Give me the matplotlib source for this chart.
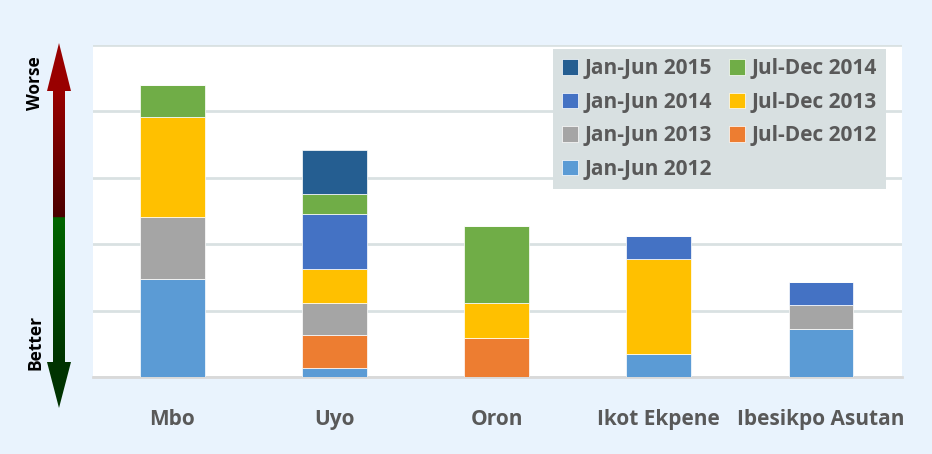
import matplotlib.pyplot as plt
import numpy as np
from matplotlib.patches import Polygon

plt.rcParams['font.family'] = ['Open Sans', 'DejaVu Sans']
plt.rcParams['font.stretch'] = 'condensed'
plt.rcParams['font.weight'] = 'bold'

towns = ["Mbo", "Uyo", "Oron", "Ikot Ekpene", "Ibesikpo Asutan"]

# values (stack order bottom -> top)
jan_jun_2012 = [14.7, 1.3, 0, 3.4, 7.2]
jul_dec_2012 = [0, 5.1, 5.8, 0, 0]
jan_jun_2013 = [9.4, 4.8, 0, 0, 3.7]
jul_dec_2013 = [15.1, 5.1, 5.4, 14.3, 0]
jan_jun_2014 = [0, 8.2, 0, 3.5, 3.4]
jul_dec_2014 = [4.8, 3.1, 11.6, 0, 0]
jan_jun_2015 = [0, 6.6, 0, 0, 0]

series = [
    ("Jan-Jun 2012", jan_jun_2012, "#5B9BD5"),
    ("Jul-Dec 2012", jul_dec_2012, "#ED7D31"),
    ("Jan-Jun 2013", jan_jun_2013, "#A5A5A5"),
    ("Jul-Dec 2013", jul_dec_2013, "#FFC000"),
    ("Jan-Jun 2014", jan_jun_2014, "#4472C4"),
    ("Jul-Dec 2014", jul_dec_2014, "#70AD47"),
    ("Jan-Jun 2015", jan_jun_2015, "#255E91"),
]

bg = "#E9F3FD"
fig = plt.figure(figsize=(9.32, 4.54), dpi=100, facecolor=bg)
ax = fig.add_axes([93 / 932, 77 / 454, 809 / 932, 332 / 454])
ax.set_facecolor("white")

x = np.arange(len(towns))
bottom = np.zeros(len(towns))
handles = {}
for name, vals, col in series:
    vals = np.array(vals, dtype=float)
    b = ax.bar(x, vals, 0.4, bottom=bottom, color=col, edgecolor="white",
               linewidth=0.5, zorder=3, label=name)
    handles[name] = b
    bottom += vals

ax.set_xlim(-0.49, 4.5)
ax.set_ylim(0, 50)
ax.set_yticks(range(0, 51, 10))
ax.set_yticklabels([])
ax.grid(axis="y", color="#D9E1E2", linewidth=2, zorder=0)
ax.set_axisbelow(True)
for s in ["top", "left", "right"]:
    ax.spines[s].set_visible(False)
ax.spines["bottom"].set_color("#D9D9D9")
ax.spines["bottom"].set_linewidth(2)
ax.set_xticks(x)
ax.set_xticklabels(towns, fontsize=15, color="#595959")
ax.tick_params(axis="both", length=0)
ax.tick_params(axis="x", pad=23)

order = ["Jan-Jun 2015", "Jan-Jun 2014", "Jan-Jun 2013", "Jan-Jun 2012",
         "Jul-Dec 2014", "Jul-Dec 2013", "Jul-Dec 2012"]
leg = ax.legend([handles[n] for n in order], order, ncol=2, loc="upper right",
                bbox_to_anchor=(0.98, 0.988), borderaxespad=0, fancybox=False,
                facecolor="#D8E0E1", edgecolor="none", framealpha=1,
                prop={"size": 15, "weight": "bold", "stretch": "condensed"},
                labelcolor="#595959",
                handlelength=0.77, handleheight=0.77, handletextpad=0.3,
                columnspacing=0.8, labelspacing=0.6, borderpad=0.45)
leg.set_zorder(5)

# Worse / Better arrow on the left
over = fig.add_axes([0, 0, 1, 1])
over.set_xlim(0, 932)
over.set_ylim(454, 0)
over.axis("off")
pts = [(59, 43), (71, 91), (65, 91), (65, 362), (71, 362), (59, 408),
       (47, 362), (53, 362), (53, 91), (47, 91)]
arrow = Polygon(pts, closed=True, facecolor="none", edgecolor="none")
over.add_patch(arrow)
ys = np.linspace(43, 408, 400)
grad = np.zeros((len(ys), 1, 3))
for i, yy in enumerate(ys):
    if yy < 217:
        t = np.clip((yy - 91) / (217 - 91), 0, 1)
        c0, c1 = np.array([0.60, 0, 0]), np.array([0.29, 0, 0])
    else:
        t = np.clip((yy - 217) / (362 - 217), 0, 1)
        c0, c1 = np.array([0, 0.40, 0]), np.array([0, 0.20, 0])
    grad[i, 0] = c0 + (c1 - c0) * t
im = over.imshow(grad, extent=(47, 71, 408, 43), aspect="auto")
im.set_clip_path(arrow)
over.set_xlim(0, 932)
over.set_ylim(454, 0)
over.text(35, 83, "Worse", rotation=90, ha="center", va="center",
          fontsize=12.5, color="black")
over.text(35, 342, "Better", rotation=90, ha="center", va="center",
          fontsize=12.5, color="black")

fig.savefig("out.png", dpi=100, facecolor=bg)
